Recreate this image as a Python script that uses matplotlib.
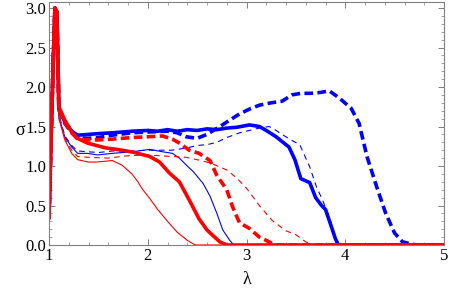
import matplotlib
matplotlib.use("Agg")
import matplotlib.pyplot as plt
from matplotlib.ticker import MultipleLocator

# spike shared by every run near lambda = 1
x_spike = [1.0, 1.02, 1.04, 1.06, 1.08]
y_spike = [0.35, 1.3, 2.2, 3.0, 2.95]

# blue, thick solid
x_bts = [1.1, 1.16, 1.23, 1.29, 1.4, 1.5, 1.64, 1.84, 2.0, 2.1, 2.2, 2.3, 2.4, 2.5, 2.6,
         2.7, 2.8, 2.9, 3.03, 3.13, 3.2, 3.3, 3.43, 3.49, 3.55, 3.64, 3.7, 3.76, 3.8,
         3.86, 3.9, 3.93, 5.0]
y_bts = [1.72, 1.56, 1.44, 1.39, 1.4, 1.41, 1.42, 1.44, 1.45, 1.44, 1.46, 1.44, 1.46,
         1.45, 1.47, 1.46, 1.48, 1.49, 1.52, 1.5, 1.45, 1.37, 1.24, 1.08, 0.84, 0.79,
         0.6, 0.5, 0.45, 0.23, 0.08, 0.0, 0.0]

# blue, thick dashed
x_btd = [1.1, 1.16, 1.23, 1.29, 1.39, 1.5, 1.64, 1.84, 2.0, 2.2, 2.3, 2.39, 2.5, 2.6,
         2.73, 2.83, 2.93, 3.03, 3.13, 3.25, 3.36, 3.46, 3.55, 3.65, 3.74, 3.84, 3.94,
         4.06, 4.14, 4.22, 4.32, 4.41, 4.5, 4.58, 4.68, 4.72, 5.0]
y_btd = [1.71, 1.54, 1.42, 1.36, 1.35, 1.36, 1.39, 1.42, 1.43, 1.44, 1.42, 1.37, 1.35,
         1.4, 1.5, 1.58, 1.66, 1.72, 1.77, 1.8, 1.82, 1.9, 1.92, 1.92, 1.93, 1.95, 1.86,
         1.73, 1.54, 1.12, 0.73, 0.4, 0.15, 0.04, 0.01, 0.0, 0.0]

# blue, thin solid
x_bns = [1.1, 1.16, 1.23, 1.29, 1.39, 1.49, 1.64, 1.84, 2.02, 2.15, 2.25, 2.32, 2.4,
         2.46, 2.56, 2.63, 2.7, 2.76, 2.83, 2.87, 5.0]
y_bns = [1.62, 1.37, 1.24, 1.16, 1.16, 1.14, 1.16, 1.18, 1.21, 1.18, 1.16, 1.1, 1.0,
         0.93, 0.78, 0.62, 0.4, 0.19, 0.06, 0.0, 0.0]

# blue, thin dashed
x_bnd = [1.1, 1.16, 1.23, 1.29, 1.4, 1.5, 1.64, 1.84, 2.0, 2.15, 2.25, 2.4, 2.5, 2.6,
         2.7, 2.8, 2.93, 3.03, 3.13, 3.23, 3.3, 3.36, 3.45, 3.54, 3.6, 3.64, 3.71, 3.77,
         3.84, 3.91, 3.95, 5.0]
y_bnd = [1.65, 1.38, 1.26, 1.19, 1.18, 1.17, 1.19, 1.19, 1.2, 1.2, 1.2, 1.23, 1.26,
         1.27, 1.3, 1.36, 1.42, 1.45, 1.48, 1.5, 1.45, 1.4, 1.33, 1.27, 1.1, 0.99, 0.73,
         0.57, 0.35, 0.06, 0.0, 0.0]

# red, thick solid
x_rts = [1.1, 1.16, 1.23, 1.29, 1.39, 1.48, 1.57, 1.74, 1.87, 2.02, 2.12, 2.22, 2.32,
         2.42, 2.52, 2.6, 2.66, 2.73, 2.8, 5.0]
y_rts = [1.75, 1.58, 1.43, 1.35, 1.29, 1.26, 1.23, 1.2, 1.17, 1.12, 1.05, 0.91, 0.8,
         0.57, 0.33, 0.19, 0.12, 0.04, 0.0, 0.0]

# red, thick dashed
x_rtd = [1.1, 1.16, 1.23, 1.29, 1.4, 1.5, 1.64, 1.84, 2.0, 2.15, 2.25, 2.32, 2.42,
         2.52, 2.63, 2.7, 2.8, 2.86, 2.93, 3.03, 3.13, 3.23, 3.28, 5.0]
y_rtd = [1.72, 1.55, 1.42, 1.34, 1.33, 1.33, 1.34, 1.36, 1.37, 1.38, 1.34, 1.29, 1.2,
         1.16, 1.07, 0.88, 0.7, 0.48, 0.28, 0.21, 0.1, 0.04, 0.0, 0.0]

# red, thin solid
x_rns = [1.1, 1.16, 1.23, 1.29, 1.4, 1.47, 1.57, 1.64, 1.74, 1.84, 1.9, 1.95, 2.02,
         2.1, 2.2, 2.3, 2.4, 2.48, 5.0]
y_rns = [1.6, 1.33, 1.16, 1.08, 1.05, 1.05, 1.06, 1.07, 1.01, 0.9, 0.8, 0.7, 0.59,
         0.45, 0.3, 0.16, 0.06, 0.0, 0.0]

# red, thin dashed
x_rnd = [1.1, 1.16, 1.23, 1.29, 1.4, 1.6, 1.8, 2.0, 2.25, 2.39, 2.5, 2.63, 2.8, 2.9,
         3.0, 3.13, 3.26, 3.4, 3.5, 3.6, 3.67, 5.0]
y_rnd = [1.65, 1.35, 1.2, 1.12, 1.11, 1.1, 1.13, 1.14, 1.12, 1.11, 1.08, 1.04, 0.95,
         0.85, 0.72, 0.5, 0.31, 0.18, 0.13, 0.04, 0.0, 0.0]

THICK = 2.6
THIN = 0.8
DASH_THICK = (0, (2.4, 1.2))
DASH_THIN = (0, (5, 4))

plt.rcParams['font.family'] = ['Liberation Serif', 'DejaVu Serif']

fig = plt.figure(figsize=(4.5, 2.93), dpi=100)
ax = fig.add_axes([49 / 450, 48 / 293, 395 / 450, 243 / 293])

runs = [
    (x_bns, y_bns, 'b', THIN, '-'),
    (x_bnd, y_bnd, 'b', THIN, DASH_THIN),
    (x_bts, y_bts, 'b', THICK, '-'),
    (x_btd, y_btd, 'b', THICK, DASH_THICK),
    (x_rns, y_rns, 'r', THIN, '-'),
    (x_rnd, y_rnd, 'r', THIN, DASH_THIN),
    (x_rtd, y_rtd, 'r', THICK, DASH_THICK),
    (x_rts, y_rts, 'r', THICK, '-'),
]
for xs, ys, c, lw, ls in runs:
    ax.plot(x_spike + xs, y_spike + ys, color=c, lw=lw, linestyle=ls,
            solid_joinstyle='round')

ax.set_xlim(1, 5)
ax.set_ylim(0, 3.076)
ax.xaxis.set_major_locator(MultipleLocator(1))
ax.xaxis.set_minor_locator(MultipleLocator(0.2))
ax.yaxis.set_major_locator(MultipleLocator(0.5))
ax.yaxis.set_minor_locator(MultipleLocator(0.1))
ax.yaxis.set_major_formatter(plt.FormatStrFormatter('%.1f'))

for s in ax.spines.values():
    s.set_color('#808080')
    s.set_linewidth(0.8)
ax.tick_params(which='both', direction='in', top=True, right=True,
               color='#808080', labelsize=12, pad=2)
ax.tick_params(which='major', length=4.5, width=0.7)
ax.tick_params(which='minor', length=2.5, width=0.5)

ax.set_xlabel(u'\u03bb', fontsize=13)
ax.set_ylabel(u'\u03c3', fontsize=13, rotation=0)
ax.xaxis.set_label_coords(0.5, -0.144)
ax.yaxis.set_label_coords(-0.073, 0.47)
ax.xaxis.label.set_va('center')
ax.yaxis.label.set_va('center')
ax.yaxis.label.set_ha('center')

fig.savefig('out.png', dpi=100)
